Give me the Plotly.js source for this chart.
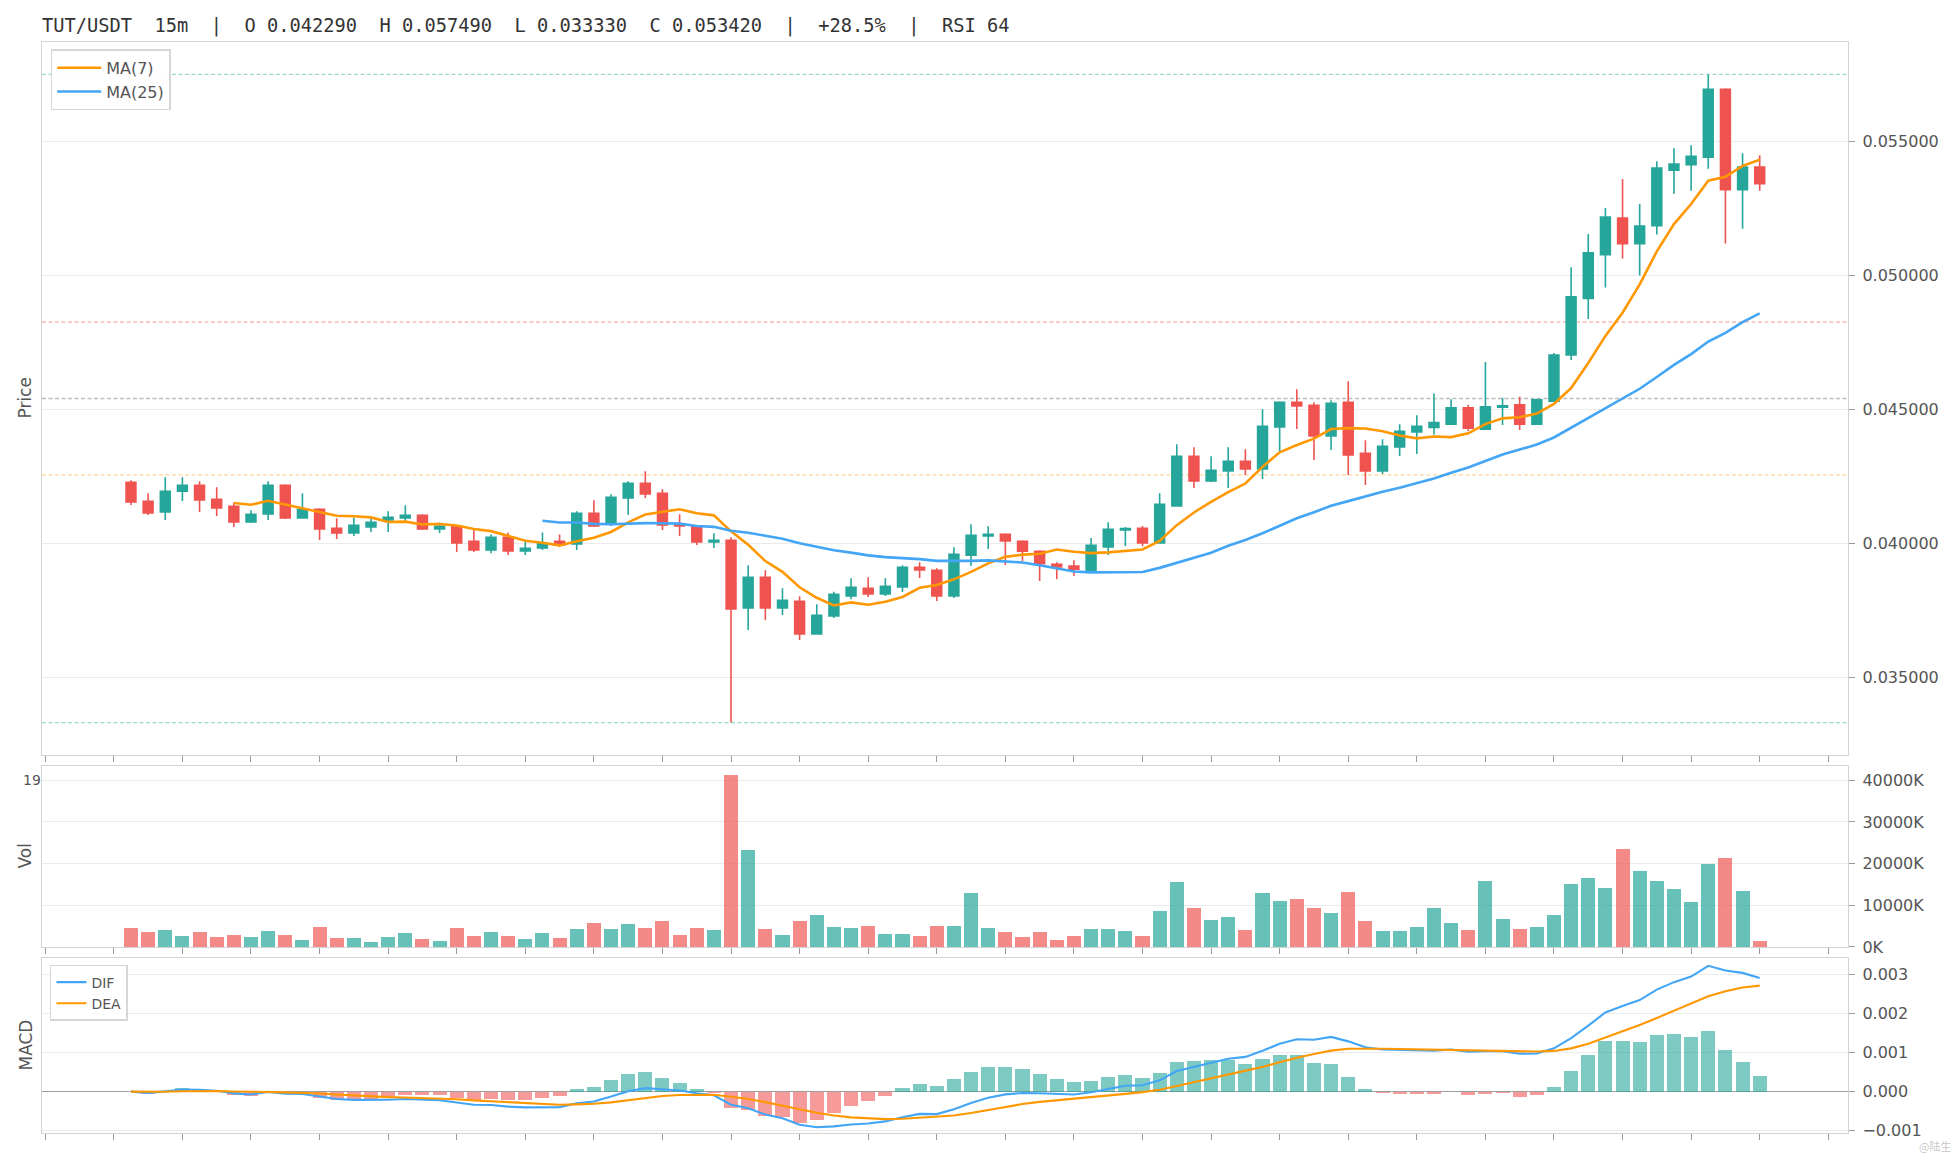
<!DOCTYPE html>
<html>
<head>
<meta charset="utf-8">
<script src="https://cdn.plot.ly/plotly-3.0.1.min.js"></script>
<style>
html,body{margin:0;padding:0;background:#ffffff;}
#chart{width:1956px;height:1156px;}
</style>
</head>
<body>
<div id="chart"></div>
<script>
// ---------- data ----------
const titleText = "TUT/USDT  15m  |  O 0.042290  H 0.057490  L 0.033330  C 0.053420  |  +28.5%  |  RSI 64";

const candleIndex = [
  0,1,2,3,4,5,6,7,8,9,10,11,12,13,14,15,16,17,18,19,20,21,22,23,24,25,26,27,28,29,
  30,31,32,33,34,35,36,37,38,39,40,41,42,43,44,45,46,47,48,49,50,51,52,53,54,55,56,57,58,59,
  60,61,62,63,64,65,66,67,68,69,70,71,72,73,74,75,76,77,78,79,80,81,82,83,84,85,86,87,88,89,
  90,91,92,93,94,95
];

const openP = [
  0.042290,0.041580,0.041182,0.041953,0.042177,0.041654,0.041393,0.040808,0.041107,0.042177,
  0.040958,0.041281,0.040572,0.040398,0.040622,0.040883,0.040958,0.041057,0.040547,0.040659,
  0.040087,0.039764,0.040236,0.039726,0.039838,0.040087,0.039988,0.041132,0.040759,0.041704,
  0.042251,0.041878,0.040721,0.040659,0.040062,0.040124,0.037600,0.038744,0.037600,0.037848,
  0.036629,0.037301,0.038047,0.038333,0.038122,0.038383,0.039117,0.039005,0.038047,0.039565,
  0.040286,0.040348,0.040087,0.039714,0.039229,0.039167,0.038980,0.039876,0.040509,0.040571,
  0.040024,0.041405,0.043258,0.042337,0.042710,0.043071,0.042785,0.044352,0.045272,0.045160,
  0.044016,0.045272,0.043369,0.042710,0.043606,0.044165,0.044331,0.044455,0.045062,0.044269,
  0.045087,0.045173,0.044455,0.045310,0.047032,0.049139,0.050774,0.052138,0.051183,0.051852,
  0.053922,0.054120,0.054405,0.056933,0.053191,0.054034
];
const highP = [
  0.042363,0.041878,0.042475,0.042475,0.042326,0.042102,0.041530,0.041244,0.042326,0.042214,
  0.041878,0.041318,0.040945,0.040970,0.040945,0.041206,0.041430,0.041095,0.040784,0.040697,
  0.040510,0.040348,0.040410,0.040100,0.040410,0.040336,0.041206,0.041617,0.041841,0.042326,
  0.042699,0.042027,0.041095,0.040697,0.040386,0.040236,0.039192,0.039005,0.038333,0.038035,
  0.037736,0.038209,0.038706,0.038744,0.038706,0.039192,0.039303,0.039080,0.039863,0.040721,
  0.040647,0.040386,0.040124,0.039751,0.039303,0.039378,0.040211,0.040796,0.040620,0.040658,
  0.041877,0.043705,0.043594,0.043258,0.043594,0.043519,0.045012,0.045310,0.045757,0.045272,
  0.045347,0.046056,0.043854,0.043892,0.044451,0.044787,0.045595,0.045384,0.045173,0.046772,
  0.045434,0.045471,0.045397,0.047107,0.050304,0.051543,0.052509,0.053587,0.052658,0.054257,
  0.054740,0.054851,0.057490,0.056970,0.054554,0.054479
];
const lowP = [
  0.041443,0.041070,0.040883,0.041592,0.041182,0.041032,0.040622,0.040771,0.040883,0.040920,
  0.040940,0.040137,0.040174,0.040286,0.040435,0.040435,0.040833,0.040510,0.040398,0.039689,
  0.039689,0.039639,0.039577,0.039577,0.039764,0.039876,0.039764,0.040622,0.040659,0.041070,
  0.041704,0.040510,0.040286,0.039950,0.039838,0.033330,0.036779,0.037152,0.037338,0.036405,
  0.036600,0.037226,0.037923,0.038010,0.038047,0.038197,0.038719,0.037861,0.037973,0.039167,
  0.039801,0.039204,0.039353,0.038607,0.038669,0.038794,0.038914,0.039576,0.039911,0.039899,
  0.039999,0.041380,0.042076,0.042300,0.042076,0.042561,0.042412,0.043457,0.044277,0.043121,
  0.043494,0.042561,0.042188,0.042598,0.043270,0.043345,0.044071,0.044418,0.044195,0.044250,
  0.044418,0.044232,0.044440,0.045290,0.046846,0.048371,0.049548,0.050626,0.049994,0.051518,
  0.053042,0.053154,0.053971,0.051183,0.051741,0.053154
];
const closeP = [
  0.041555,0.041144,0.041953,0.042177,0.041629,0.041331,0.040808,0.041095,0.042177,0.040958,
  0.041281,0.040547,0.040398,0.040684,0.040796,0.040983,0.041057,0.040547,0.040647,0.040025,
  0.039764,0.040236,0.039726,0.039826,0.040012,0.039950,0.041132,0.040659,0.041729,0.042251,
  0.041853,0.040697,0.040659,0.040062,0.040124,0.037562,0.038744,0.037600,0.037886,0.036629,
  0.037326,0.038109,0.038371,0.038122,0.038408,0.039117,0.039017,0.038047,0.039602,0.040311,
  0.040348,0.040100,0.039714,0.039254,0.039129,0.039042,0.039938,0.040536,0.040558,0.040024,
  0.041467,0.043258,0.042337,0.042735,0.043071,0.042785,0.044377,0.045272,0.045135,0.044016,
  0.045235,0.043307,0.042710,0.043630,0.044190,0.044377,0.044517,0.045062,0.044306,0.045099,
  0.045136,0.044455,0.045359,0.047032,0.049201,0.050837,0.052175,0.051183,0.051840,0.053996,
  0.054145,0.054442,0.056933,0.053191,0.054034,0.053420
];
// volume in thousands (axis shows "K")
const volumeK = [
  4623,3650,4136,2676,3650,2433,2920,2433,3893,2920,
  1703,4866,2190,2190,1217,2433,3406,1946,1460,4623,
  2676,3650,2676,1946,3406,2190,4380,5839,4380,5596,
  4623,6326,2920,4623,4136,41363,23358,4380,2920,6326,
  7786,4866,4623,5109,3163,3163,2676,5109,5109,12895,
  4623,3650,2433,3650,1703,2676,4380,4380,3893,2676,
  8516,15572,9246,6569,7299,4136,12895,10949,11436,9246,
  8273,13139,6326,3893,3893,4866,9246,5839,4136,15815,
  6813,4380,4866,7786,15085,16545,14112,23601,18248,15815,
  13869,10706,19951,21411,13382,1460
];
// Fibonacci retracement levels drawn between the swing low and high
const fibRatios = [0, 0.382, 0.5, 0.618, 1];
const fibColors = ['rgba(38,166,154,0.45)','rgba(255,152,0,0.40)','rgba(110,110,110,0.45)','rgba(239,83,80,0.40)','rgba(38,166,154,0.45)'];
const priceTicks = [0.035, 0.040, 0.045, 0.050, 0.055];
const volTicks = [0, 10000, 20000, 30000, 40000];
const volTickText = ['0K', '10000K', '20000K', '30000K', '40000K'];
const macdTicks = [-0.001, 0, 0.001, 0.002, 0.003];

// ---------- indicators derived from the closes ----------
function sma(arr, n){
  return arr.map((v,i)=>{
    if(i < n-1) return null;
    let s = 0; for(let k=i-n+1;k<=i;k++) s += arr[k];
    return s/n;
  });
}
function ema(arr, n){
  const a = 2/(n+1); const out = [];
  arr.forEach((v,i)=>{ out.push(i===0 ? v : a*v + (1-a)*out[i-1]); });
  return out;
}
const ma7 = sma(closeP, 7);
const ma25 = sma(closeP, 25);
const e12 = ema(closeP, 12), e26 = ema(closeP, 26);
const dif = e12.map((v,i)=>v - e26[i]);
const dea = ema(dif, 9);
const hist = dif.map((v,i)=>2*(v - dea[i]));

const UP = '#26a69a', DN = '#ef5350';
const volColors = closeP.map((c,i)=> c >= openP[i] ? 'rgba(38,166,154,0.70)' : 'rgba(239,83,80,0.68)');
const histColors = hist.map(h => h >= 0 ? 'rgba(38,166,154,0.60)' : 'rgba(239,83,80,0.58)');

const hi = Math.max(...highP), lo = Math.min(...lowP);
const pad = (hi - lo) * 0.05;

// ---------- traces ----------
const traces = [
  {
    type:'candlestick', x:candleIndex, open:openP, high:highP, low:lowP, close:closeP,
    xaxis:'x', yaxis:'y', showlegend:false, whiskerwidth:0,
    increasing:{line:{color:UP, width:1.6}, fillcolor:UP},
    decreasing:{line:{color:DN, width:1.6}, fillcolor:DN},
    hoverinfo:'skip'
  },
  { type:'scatter', mode:'lines', x:candleIndex, y:ma7, name:'MA(7)', xaxis:'x', yaxis:'y',
    line:{color:'#ff9800', width:2.6}, legend:'legend' },
  { type:'scatter', mode:'lines', x:candleIndex, y:ma25, name:'MA(25)', xaxis:'x', yaxis:'y',
    line:{color:'#42a5f5', width:2.6}, legend:'legend' },
  { type:'bar', x:candleIndex, y:volumeK, xaxis:'x2', yaxis:'y2', showlegend:false,
    marker:{color:volColors, line:{width:0}}, width:0.82 },
  { type:'bar', x:candleIndex, y:hist, xaxis:'x3', yaxis:'y3', showlegend:false,
    marker:{color:histColors, line:{width:0}}, width:0.82 },
  { type:'scatter', mode:'lines', x:candleIndex, y:dif, name:'DIF', xaxis:'x3', yaxis:'y3',
    line:{color:'#42a5f5', width:2.1}, legend:'legend2' },
  { type:'scatter', mode:'lines', x:candleIndex, y:dea, name:'DEA', xaxis:'x3', yaxis:'y3',
    line:{color:'#ff9800', width:2.1}, legend:'legend2' }
];

// ---------- layout ----------
const tickFont = {family:'DejaVu Sans', size:16, color:'#555555'};
const xRange = [-5.19, 100.15];
function xAxis(anchor){
  return {
    anchor:anchor, range:xRange, showgrid:false, zeroline:false,
    showticklabels:false, ticks:'outside', ticklen:6, tickcolor:'#999999', tickwidth:1,
    tickmode:'linear', tick0:-5, dtick:4,
    showline:true, mirror:true, linecolor:'#d4d4d4', linewidth:1.2,
    rangeslider:{visible:false}, fixedrange:true
  };
}
function yAxis(domain, anchor, extra){
  return Object.assign({
    domain:domain, anchor:anchor, side:'right',
    showgrid:true, gridcolor:'#ebebeb', gridwidth:1,
    ticks:'outside', ticklen:6, tickcolor:'#999999', tickwidth:1,
    ticklabelstandoff:4,
    showline:true, mirror:true, linecolor:'#d4d4d4', linewidth:1.2,
    tickfont:tickFont, zeroline:false, fixedrange:true
  }, extra);
}

const shapes = fibRatios.map((r,k)=>({
  type:'line', xref:'x domain', yref:'y', x0:0, x1:1,
  y0: lo + (hi-lo)*r, y1: lo + (hi-lo)*r,
  line:{color:fibColors[k], width:1.3, dash:'4px,2.5px'}, layer:'below'
}));

const axisTitleFont = {family:'DejaVu Sans', size:17, color:'#555555'};
const annotations = [
  {text:'Price', xref:'paper', yref:'paper', x:-0.0094, y:0.6732, textangle:-90, showarrow:false, font:axisTitleFont, xanchor:'center', yanchor:'middle'},
  {text:'Vol', xref:'paper', yref:'paper', x:-0.0094, y:0.2534, textangle:-90, showarrow:false, font:axisTitleFont, xanchor:'center', yanchor:'middle'},
  {text:'MACD', xref:'paper', yref:'paper', x:-0.0094, y:0.0802, textangle:-90, showarrow:false, font:axisTitleFont, xanchor:'center', yanchor:'middle'},
  {text:'19', xref:'paper', yref:'paper', x:0.0006, y:0.3236, showarrow:false, xanchor:'right', yanchor:'middle',
   font:{family:'DejaVu Sans', size:14, color:'#555555'}},
  {text:'@陆生', xref:'paper', yref:'paper', x:1.0576, y:-0.0119, showarrow:false, xanchor:'right', yanchor:'middle',
   borderpad:0, font:{family:'Noto Sans CJK SC', size:11, color:'rgba(160,160,160,0.6)'}}
];

const layout = {
  width:1956, height:1156,
  paper_bgcolor:'#ffffff', plot_bgcolor:'#ffffff',
  margin:{l:42, r:108, t:42, b:23},
  font:{family:'DejaVu Sans', color:'#555555'},
  title:{text:titleText, x:0, xref:'paper', xanchor:'left', y:1-25/1156, yref:'container', yanchor:'middle',
         font:{family:'DejaVu Sans Mono', size:18.7, color:'#333333'}},
  showlegend:true,
  legend:{x:0.0048, y:0.9933, xanchor:'left', yanchor:'top', bgcolor:'rgba(255,255,255,0.9)',
          bordercolor:'#d6d6d6', borderwidth:1.5, font:{family:'DejaVu Sans', size:16, color:'#555555'},
          tracegroupgap:0, itemwidth:44},
  legend2:{x:0.0044, y:0.154, xanchor:'left', yanchor:'top', bgcolor:'rgba(255,255,255,0.9)',
          bordercolor:'#d6d6d6', borderwidth:1.5, font:{family:'DejaVu Sans', size:14, color:'#555555'},
          tracegroupgap:0},
  boxgap:0.18,
  bargap:0,
  xaxis:xAxis('y'),
  xaxis2:Object.assign(xAxis('y2'), {matches:'x'}),
  xaxis3:Object.assign(xAxis('y3'), {matches:'x'}),
  yaxis:yAxis([0.3465, 1], 'x', {range:[lo-pad, hi+pad], tickvals:priceTicks, tickformat:'.6f'}),
  yaxis2:yAxis([0.1705, 0.3364], 'x2', {range:[0, Math.max(...volumeK)*1.05], tickvals:volTicks, ticktext:volTickText}),
  yaxis3:yAxis([0, 0.1604], 'x3', {range:[-0.00106, 0.00342], tickvals:macdTicks, tickformat:'.3f',
          zeroline:true, zerolinecolor:'#9e9e9e', zerolinewidth:1.3}),
  shapes:shapes,
  annotations:annotations,
  hovermode:false
};

Plotly.newPlot('chart', traces, layout, {staticPlot:true, displayModeBar:false});
</script>
</body>
</html>
